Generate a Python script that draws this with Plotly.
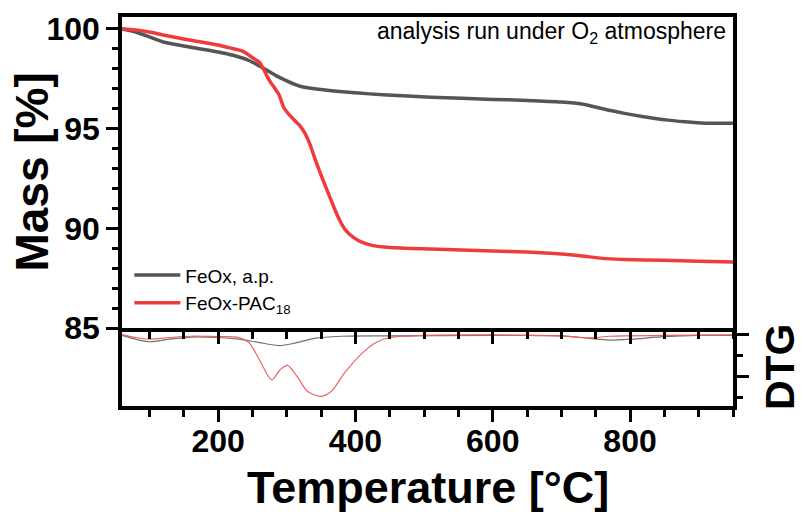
import plotly.graph_objects as go

# --- TGA mass curves (temperature in °C, mass in %) ---
temp_ap = [60, 80, 100, 120, 150, 175, 200, 222, 245, 265, 285, 300, 315, 330, 365,
           400, 440, 510, 600, 650, 700, 730, 760, 790, 820, 855, 880, 910, 950]
mass_ap = [100.0, 99.85, 99.6, 99.35, 99.15, 99.0, 98.85, 98.68, 98.42, 98.05, 97.65,
           97.4, 97.18, 97.05, 96.9, 96.8, 96.7, 96.58, 96.47, 96.42, 96.34, 96.24,
           96.0, 95.78, 95.6, 95.43, 95.35, 95.28, 95.27]

temp_pac = [60, 80, 100, 120, 150, 175, 200, 217, 235, 246, 255, 261, 266, 271, 276,
            282, 288, 292, 295, 300, 305, 312, 319, 326, 334, 341, 348, 356, 363, 370,
            378, 386, 397, 410, 426, 450, 510, 600, 650, 700, 730, 760, 790, 850, 900, 950]
mass_pac = [100.0, 99.95, 99.85, 99.7, 99.5, 99.35, 99.2, 99.05, 98.9, 98.66, 98.45,
            98.3, 98.0, 97.65, 97.35, 97.05, 96.75, 96.4, 96.1, 95.85, 95.65, 95.4,
            95.15, 94.8, 94.2, 93.5, 92.85, 92.15, 91.55, 90.95, 90.35, 89.9, 89.55,
            89.3, 89.14, 89.05, 88.97, 88.87, 88.82, 88.72, 88.62, 88.5, 88.45, 88.4,
            88.35, 88.32]

# --- DTG curves (arbitrary units) ---
dtg_temp_ap = [60, 80, 100, 130, 160, 200, 230, 260, 290, 310, 340, 380, 450, 600,
               700, 740, 770, 800, 850, 900, 950]
dtg_ap = [-0.03, -0.12, -0.18, -0.12, -0.07, -0.08, -0.12, -0.2, -0.27, -0.22, -0.1,
          -0.05, -0.04, -0.03, -0.04, -0.1, -0.14, -0.12, -0.06, -0.03, -0.03]

dtg_temp_pac = [60, 80, 100, 130, 160, 200, 230, 245, 260, 278, 290, 301, 315, 330,
                350, 365, 385, 410, 430, 450, 500, 600, 700, 740, 770, 800, 850, 950]
dtg_pac = [-0.01, -0.08, -0.12, -0.08, -0.05, -0.06, -0.08, -0.2, -0.6, -1.08, -0.85,
           -0.74, -1.0, -1.35, -1.47, -1.35, -0.9, -0.45, -0.2, -0.08, -0.03, -0.02,
           -0.04, -0.09, -0.05, -0.04, -0.03, -0.02]

x_ticks = [200, 400, 600, 800]
mass_ticks = [85, 90, 95, 100]

GRAY = "#555555"
RED = "#ef3b3b"
FONT = "Liberation Sans, Arial, sans-serif"

fig = go.Figure()

fig.add_trace(go.Scatter(x=temp_ap, y=mass_ap, mode="lines", name="FeOx, a.p.",
                         line=dict(color=GRAY, width=3.5, shape="spline", smoothing=0.6),
                         xaxis="x2", yaxis="y2"))
fig.add_trace(go.Scatter(x=temp_pac, y=mass_pac, mode="lines", name="FeOx-PAC<sub>18</sub>",
                         line=dict(color=RED, width=3.5, shape="spline", smoothing=0.6),
                         xaxis="x2", yaxis="y2"))
fig.add_trace(go.Scatter(x=dtg_temp_ap, y=dtg_ap, mode="lines", showlegend=False,
                         line=dict(color="#707070", width=1.2, shape="spline", smoothing=0.8),
                         xaxis="x", yaxis="y"))
fig.add_trace(go.Scatter(x=dtg_temp_pac, y=dtg_pac, mode="lines", showlegend=False,
                         line=dict(color="#f06060", width=1.2, shape="spline", smoothing=0.8),
                         xaxis="x", yaxis="y"))

tickfont = dict(family=FONT, size=32, color="black", weight="bold")

fig.update_layout(
    width=803, height=515,
    margin=dict(l=122, r=70, t=11, b=109),
    paper_bgcolor="white", plot_bgcolor="white",
    showlegend=True,
    legend=dict(x=0.012, y=0.385, xanchor="left", yanchor="top",
                bgcolor="rgba(0,0,0,0)", borderwidth=0,
                font=dict(family=FONT, size=19, color="black"),
                tracegroupgap=0, itemwidth=46),
    # bottom (DTG) panel x-axis with tick labels
    xaxis=dict(domain=[0, 1], anchor="y", range=[60, 950],
               tickvals=x_ticks, ticks="outside", ticklen=12, tickwidth=3,
               tickcolor="black", showline=True, linewidth=3.5, linecolor="black",
               mirror=False, showgrid=False, zeroline=False, tickfont=tickfont,
               ticklabelstandoff=-8,
               minor=dict(dtick=50, tick0=0, ticks="outside", ticklen=7,
                          tickwidth=2.5, tickcolor="black", showgrid=False)),
    # top (mass) panel x-axis: ticks point down into the DTG panel
    xaxis2=dict(domain=[0, 1], anchor="y2", range=[60, 950], matches="x",
                tickvals=x_ticks, ticks="outside", ticklen=12, tickwidth=3,
                tickcolor="black", showline=True, linewidth=3.5, linecolor="black",
                mirror=True, showgrid=False, zeroline=False, showticklabels=False,
                minor=dict(dtick=50, tick0=0, ticks="outside", ticklen=7,
                           tickwidth=2.5, tickcolor="black", showgrid=False)),
    # DTG axis on the right, no labels
    yaxis=dict(domain=[0, 0.2], anchor="x", side="right", range=[-1.70, 0.14],
               tickvals=[-1, 0], ticks="outside", ticklen=12, tickwidth=3,
               tickcolor="black", showline=True, linewidth=3.5, linecolor="black",
               mirror=True, showgrid=False, zeroline=False, showticklabels=False,
               minor=dict(dtick=0.5, tick0=0, ticks="outside", ticklen=6,
                          tickwidth=2.5, tickcolor="black", showgrid=False)),
    # mass axis
    yaxis2=dict(domain=[0.2, 1], anchor="x2", range=[85, 100.6],
                tickvals=mass_ticks, ticks="outside", ticklen=12, tickwidth=3,
                tickcolor="black", showline=True, linewidth=3.5, linecolor="black",
                mirror=True, showgrid=False, zeroline=False, tickfont=tickfont,
                ticklabelstandoff=0,
                minor=dict(dtick=1, tick0=0, ticks="outside", ticklen=6,
                           tickwidth=2.5, tickcolor="black", showgrid=False)),
)

title_font = dict(family=FONT, size=45, color="black", weight="bold")
fig.add_annotation(text="Temperature [°C]", xref="paper", yref="paper",
                   x=0.5, y=0, yshift=-81, xanchor="center", yanchor="middle",
                   showarrow=False, font=title_font)
fig.add_annotation(text="Mass [%]", xref="paper", yref="paper",
                   x=0, y=0.6, xshift=-90, xanchor="center", yanchor="middle",
                   textangle=-90, showarrow=False,
                   font=dict(family=FONT, size=46, color="black", weight="bold"))
fig.add_annotation(text="DTG", xref="paper", yref="paper",
                   x=1, y=0.1, xshift=47, xanchor="center", yanchor="middle",
                   textangle=-90, showarrow=False,
                   font=dict(family=FONT, size=41, color="black", weight="bold"))
fig.add_annotation(text="analysis run under O<sub>2</sub> atmosphere",
                   xref="paper", yref="paper", x=0.992, y=0.96,
                   xanchor="right", yanchor="middle", showarrow=False,
                   font=dict(family=FONT, size=23, color="black"))

fig.write_html("out.html")
